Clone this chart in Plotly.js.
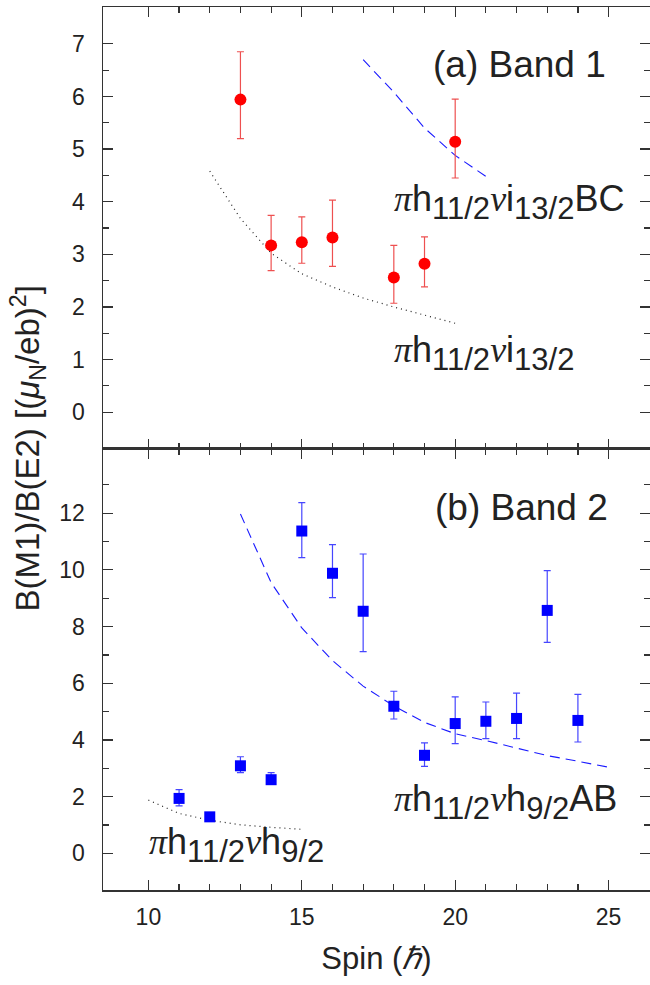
<!DOCTYPE html>
<html>
<head>
<meta charset="utf-8">
<script src="https://cdn.plot.ly/plotly-3.0.1.min.js"></script>
<style>html,body{margin:0;padding:0;background:#fff}#chart{width:650px;height:985px}</style>
</head>
<body>
<div id="chart"></div>
<script>
// ---- Band 1 (top panel) ----
const spin1 = [13, 14, 15, 16, 18, 19, 20];
const band1 = [5.94, 3.17, 3.23, 3.32, 2.56, 2.82, 5.14];
const band1Plus = [0.91, 0.57, 0.48, 0.71, 0.61, 0.51, 0.81];
const band1Minus = [0.74, 0.48, 0.40, 0.55, 0.49, 0.44, 0.69];

const calc1Spin = [12, 13, 14, 15, 16, 17, 18, 19, 20];
const calc1 = [4.58, 3.68, 3.02, 2.63, 2.38, 2.17, 2.0, 1.84, 1.69];
const calc1BCSpin = [17, 18, 19, 20, 21];
const calc1BC = [6.70, 6.08, 5.40, 4.88, 4.48];

// ---- Band 2 (bottom panel) ----
const spin2 = [11, 12, 13, 14, 15, 16, 17, 18, 19, 20, 21, 22, 23, 24];
const band2 = [1.94, 1.29, 3.09, 2.60, 11.37, 9.88, 8.54, 5.19, 3.46, 4.58, 4.66, 4.76, 8.57, 4.69];
const band2Plus = [0.31, 0.08, 0.32, 0.25, 1.00, 1.01, 2.02, 0.53, 0.44, 0.94, 0.68, 0.89, 1.40, 0.92];
const band2Minus = [0.26, 0.08, 0.24, 0.15, 0.94, 0.86, 1.42, 0.45, 0.39, 0.71, 0.61, 0.71, 1.13, 0.76];

const calc2Spin = [10, 11, 12, 13, 14, 15];
const calc2 = [1.88, 1.41, 1.17, 1.01, 0.92, 0.85];
const calc2ABSpin = [13, 14, 15, 16, 17, 18, 19, 20, 21, 22, 23, 24, 25];
const calc2AB = [11.97, 9.55, 7.95, 6.8, 5.9, 5.2, 4.62, 4.22, 3.98, 3.72, 3.45, 3.25, 3.04];

// ---- tick values ----
const xMajor = [10, 15, 20, 25];
const xMinor = [11, 12, 13, 14, 16, 17, 18, 19, 21, 22, 23, 24];
const y1Major = [0, 1, 2, 3, 4, 5, 6, 7];
const y1Minor = [0.5, 1.5, 2.5, 3.5, 4.5, 5.5, 6.5];
const y2Major = [0, 2, 4, 6, 8, 10, 12];
const y2Minor = [1, 3, 5, 7, 9, 11, 13];

const FONT = 'Liberation Sans, Arial, Helvetica, sans-serif';
const TXT = '#222';
const PI = '<span style="font-family:Liberation Serif"><i>π</i></span>';
const NU = '<span style="font-family:Liberation Serif"><i>ν</i></span>';
const sub = s => '<sub><span style="font-size:31px">' + s + '</span></sub>';

const traces = [
  {x: calc1Spin, y: calc1, xaxis: 'x2', yaxis: 'y2', mode: 'lines',
   line: {color: '#222', width: 1.2, dash: '1px,4px'}, showlegend: false},
  {x: calc1BCSpin, y: calc1BC, xaxis: 'x2', yaxis: 'y2', mode: 'lines',
   line: {color: '#1a1aff', width: 1.1, dash: '10px,6px'}, showlegend: false},
  {x: spin1, y: band1, xaxis: 'x2', yaxis: 'y2', mode: 'markers',
   marker: {symbol: 'circle', size: 12, color: '#ff0000'},
   error_y: {type: 'data', symmetric: false, array: band1Plus, arrayminus: band1Minus,
             color: 'rgb(238,80,80)', thickness: 1.2, width: 3.5},
   showlegend: false},
  {x: calc2Spin, y: calc2, xaxis: 'x', yaxis: 'y', mode: 'lines',
   line: {color: '#222', width: 1.2, dash: '1px,4px'}, showlegend: false},
  {x: calc2ABSpin, y: calc2AB, xaxis: 'x', yaxis: 'y', mode: 'lines',
   line: {color: '#1a1aff', width: 1.1, dash: '10px,6px'}, showlegend: false},
  {x: spin2, y: band2, xaxis: 'x', yaxis: 'y', mode: 'markers',
   marker: {symbol: 'square', size: 11, color: '#0000ff'},
   error_y: {type: 'data', symmetric: false, array: band2Plus, arrayminus: band2Minus,
             color: 'rgb(70,70,255)', thickness: 1.2, width: 3.5},
   showlegend: false}
];

const minorStyle = {ticks: 'inside', ticklen: 6, tickwidth: 1.2, tickcolor: '#333', tickmode: 'array'};
const axBase = {
  showline: true, linecolor: '#333', linewidth: 1.5, mirror: 'allticks',
  ticks: 'inside', ticklen: 10, tickwidth: 1.2, tickcolor: '#333',
  showgrid: false, zeroline: false, tickmode: 'array',
  tickfont: {family: FONT, size: 23, color: TXT}
};

const layout = {
  width: 650, height: 985,
  margin: {l: 103, r: 0, t: 7, b: 95},
  paper_bgcolor: '#fff', plot_bgcolor: '#fff',
  font: {family: FONT, color: TXT},
  xaxis: Object.assign({}, axBase, {
    domain: [0, 1], anchor: 'y', range: [8.52, 26.35], tickvals: xMajor,
    ticklabelstandoff: 6,
    minor: Object.assign({}, minorStyle, {tickvals: xMinor}),
    title: {text: 'Spin (<i>ℏ</i>)', font: {family: FONT, size: 31, color: TXT}, standoff: 18}
  }),
  xaxis2: Object.assign({}, axBase, {
    domain: [0, 1], anchor: 'y2', matches: 'x', range: [8.52, 26.35], tickvals: xMajor,
    showticklabels: false,
    minor: Object.assign({}, minorStyle, {tickvals: xMinor})
  }),
  yaxis: Object.assign({}, axBase, {
    domain: [0, 0.5], anchor: 'x', range: [-1.29, 14.28], tickvals: y2Major,
    ticklabelstandoff: 12,
    minor: Object.assign({}, minorStyle, {tickvals: y2Minor})
  }),
  yaxis2: Object.assign({}, axBase, {
    domain: [0.5, 1], anchor: 'x2', range: [-0.69, 7.7], tickvals: y1Major,
    ticklabelstandoff: 12,
    minor: Object.assign({}, minorStyle, {tickvals: y1Minor})
  }),
  annotations: [
    {xref: 'paper', yref: 'paper', x: -0.137, y: 0.5, xanchor: 'center', yanchor: 'middle',
     textangle: -90, showarrow: false,
     text: 'B(M1)/B(E2) [(<i>μ</i><sub>N</sub>/eb)<sup>2</sup>]',
     font: {family: FONT, size: 33, color: TXT}},
    {xref: 'x2', yref: 'y2', x: 22.1, y: 6.61, xanchor: 'center', yanchor: 'middle',
     showarrow: false, text: '(a) Band 1', font: {family: FONT, size: 37, color: TXT}},
    {xref: 'x2', yref: 'y2', x: 17.95, y: 4.0, xanchor: 'left', yanchor: 'middle',
     showarrow: false, text: PI + 'h' + sub('11/2') + NU + 'i' + sub('13/2') + 'BC',
     font: {family: FONT, size: 36, color: TXT}},
    {xref: 'x2', yref: 'y2', x: 17.95, y: 1.12, xanchor: 'left', yanchor: 'middle',
     showarrow: false, text: PI + 'h' + sub('11/2') + NU + 'i' + sub('13/2'),
     font: {family: FONT, size: 36, color: TXT}},
    {xref: 'x', yref: 'y', x: 22.15, y: 12.2, xanchor: 'center', yanchor: 'middle',
     showarrow: false, text: '(b) Band 2', font: {family: FONT, size: 37, color: TXT}},
    {xref: 'x', yref: 'y', x: 17.95, y: 1.8, xanchor: 'left', yanchor: 'middle',
     showarrow: false, text: PI + 'h' + sub('11/2') + NU + 'h' + sub('9/2') + 'AB',
     font: {family: FONT, size: 36, color: TXT}},
    {xref: 'x', yref: 'y', x: 9.95, y: 0.3, xanchor: 'left', yanchor: 'middle',
     showarrow: false, text: PI + 'h' + sub('11/2') + NU + 'h' + sub('9/2'),
     font: {family: FONT, size: 36, color: TXT}}
  ]
};

Plotly.newPlot('chart', traces, layout, {staticPlot: true, displayModeBar: false});
</script>
</body>
</html>
